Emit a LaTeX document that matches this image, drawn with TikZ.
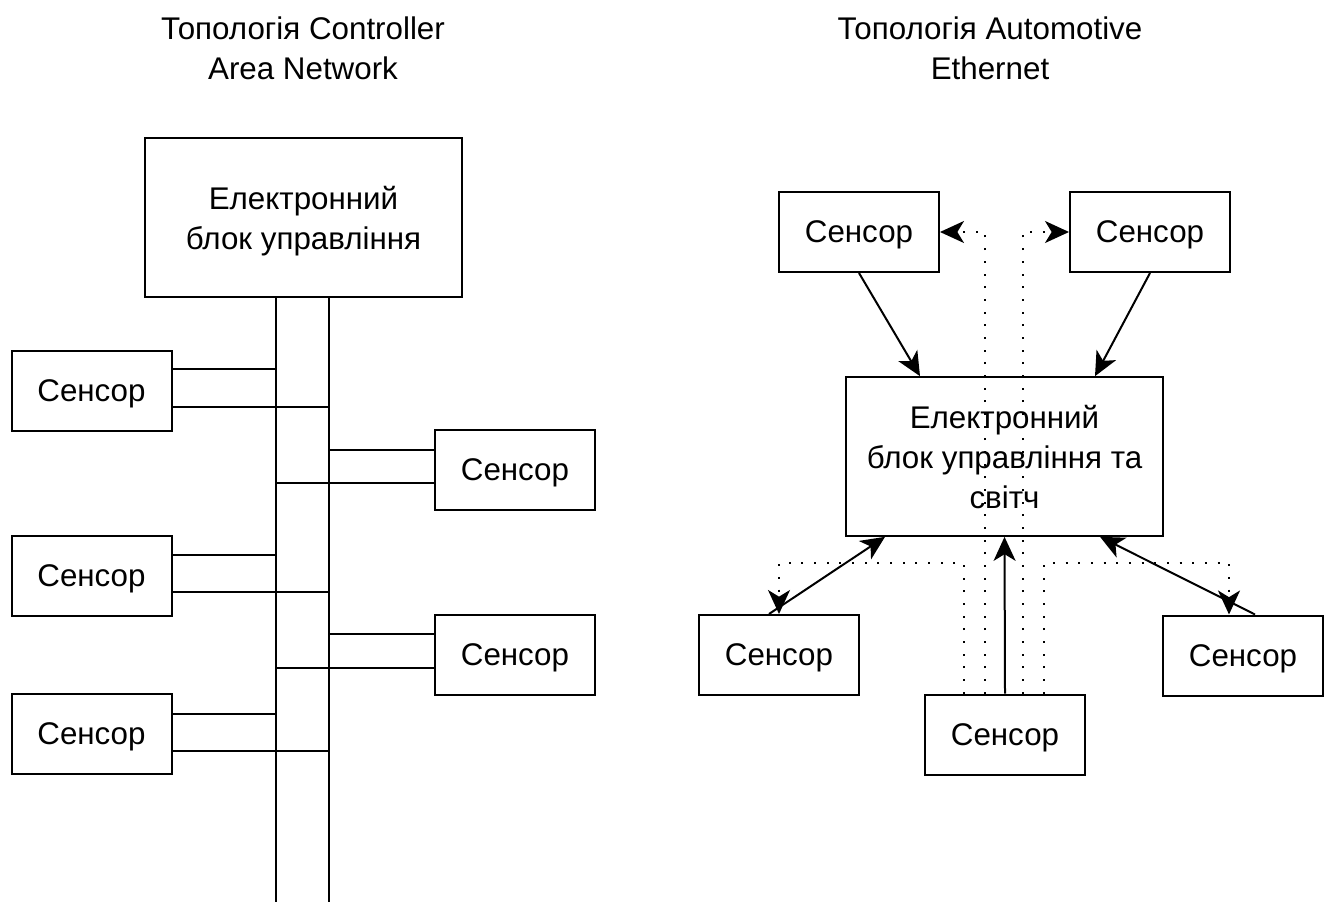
\documentclass[tikz,border=0pt]{standalone}
\usepackage{fontspec}
\setmainfont{Liberation Sans}
\usetikzlibrary{arrows.meta, positioning, calc}

\begin{document}
\begin{tikzpicture}[
  x=0.75pt, y=-0.75pt,
  sensor/.style={draw, line width=1.5pt, minimum width=120pt, minimum height=60pt, inner sep=2pt, text depth=0pt, font=\fontsize{23.5}{30}\selectfont},
  ecu/.style={sensor, minimum width=238pt, minimum height=119pt, align=center},
  title/.style={align=center, font=\fontsize{23.5}{30}\selectfont},
  wire/.style={line width=1.5pt},
  arr/.style={line width=1.5pt, -{Stealth[length=18pt, width=16.5pt, inset=5pt]}},
  dotarr/.style={arr, dash pattern=on 1.5pt off 8pt}
]
  \useasboundingbox (0,0) rectangle (1330,902);

  % Titles
  \node[title] (tCAN) at (303,48) {Топологія Controller\\Area Network};
  \node[title] (tEth) at (990,48) {Топологія Automotive\\Ethernet};

  % CAN: control unit and bus
  \node[ecu] (ecuL) at (303.5,217.5) {Електронний\\блок управління};
  \coordinate (busA) at (276,902);
  \coordinate (busB) at (329,902);
  \draw[wire] (ecuL.south -| busA) -- (busA);
  \draw[wire] (ecuL.south -| busB) -- (busB);

  % CAN: sensors
  \node[sensor] (sL1) at (91.5,390.5) {Сенсор};
  \node[sensor] (sR1) at (515,470) {Сенсор};
  \node[sensor] (sL2) at (91.5,576) {Сенсор};
  \node[sensor] (sR2) at (515,655) {Сенсор};
  \node[sensor] (sL3) at (91.5,734) {Сенсор};

  % CAN: taps onto the bus
  \draw[wire] (sL1.east |- 0,369) -- (busA |- 0,369);
  \draw[wire] (sL1.east |- 0,407) -- (busB |- 0,407);
  \draw[wire] (sR1.west |- 0,450) -- (busB |- 0,450);
  \draw[wire] (sR1.west |- 0,483) -- (busA |- 0,483);
  \draw[wire] (sL2.east |- 0,555) -- (busA |- 0,555);
  \draw[wire] (sL2.east |- 0,592) -- (busB |- 0,592);
  \draw[wire] (sR2.west |- 0,634) -- (busB |- 0,634);
  \draw[wire] (sR2.west |- 0,668) -- (busA |- 0,668);
  \draw[wire] (sL3.east |- 0,714) -- (busA |- 0,714);
  \draw[wire] (sL3.east |- 0,751) -- (busB |- 0,751);

  % Ethernet: switch and sensors
  \node[ecu] (ecuR) at (1004.5,456.5) {Електронний\\блок управління та\\світч};
  \node[sensor] (sTL) at (859,232) {Сенсор};
  \node[sensor] (sTR) at (1150,232) {Сенсор};
  \node[sensor] (sBL) at (779,655) {Сенсор};
  \node[sensor] (sBC) at (1005,734.5) {Сенсор};
  \node[sensor] (sBR) at (1243,655.5) {Сенсор};

  % Ethernet: links to the switch
  \draw[arr] (sTL.south) -- (ecuR.north -| 920,0);
  \draw[arr] (sTR.south) -- (ecuR.north -| 1095,0);
  \draw[arr] (sBC.north) -- (ecuR.south);
  \draw[arr] (sBL.north -| 769,0) -- (ecuR.south -| 885,0);
  \draw[arr] (sBR.north -| 1255,0) -- (ecuR.south -| 1100,0);

  % Ethernet: switched paths
  \draw[dotarr] (sBC.north -| 985,0) |- (sTL.east);
  \draw[dotarr] (sBC.north -| 1023,0) |- (sTR.west);
  \draw[dotarr] (sBC.north -| 964,0) -- (964,563) -| (sBL.north);
  \draw[dotarr] (sBC.north -| 1044,0) -- (1044,563) -| (sBR.north -| 1229,0);

\end{tikzpicture}
\end{document}
